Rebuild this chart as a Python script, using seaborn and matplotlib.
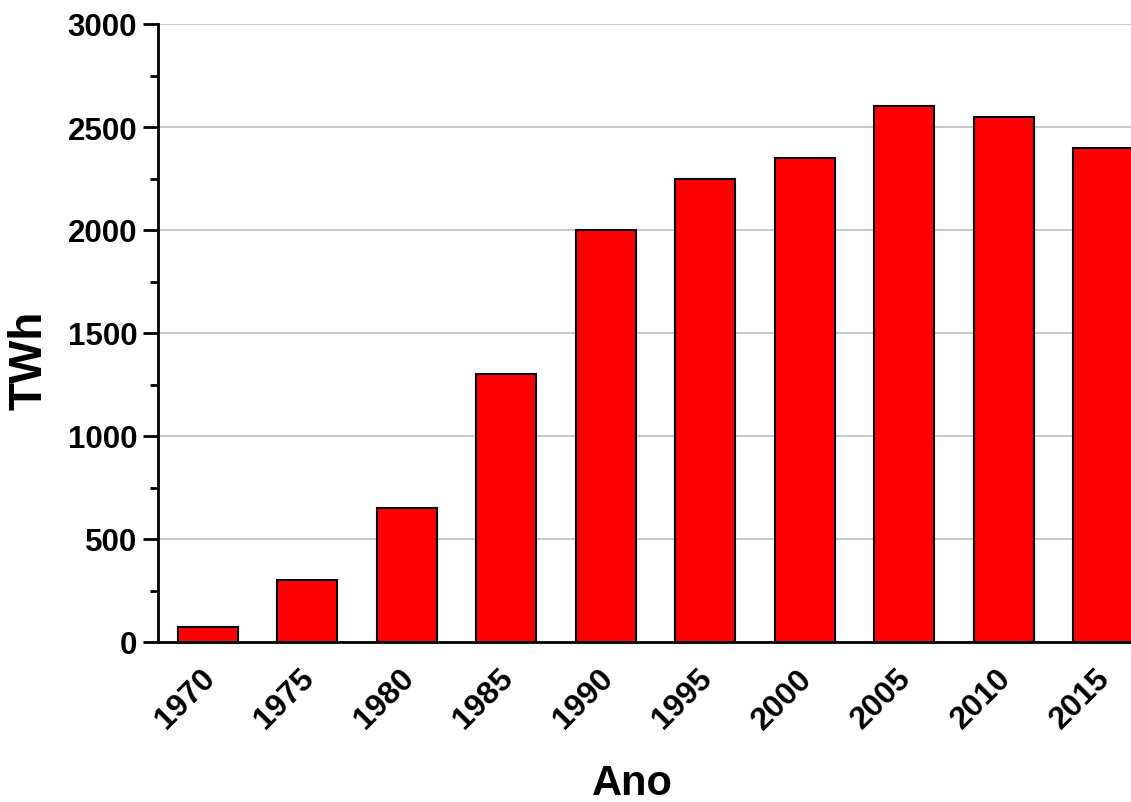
import matplotlib
matplotlib.use("Agg")
import matplotlib.pyplot as plt
from matplotlib.ticker import MultipleLocator
from matplotlib.transforms import ScaledTranslation
import seaborn as sns
import pandas as pd

anos = ['1970', '1975', '1980', '1985', '1990', '1995', '2000', '2005', '2010', '2015']
twh  = [75, 300, 650, 1300, 2000, 2250, 2350, 2600, 2550, 2400]

sns.set_style("white")
plt.rcParams['font.family'] = ['Liberation Sans', 'DejaVu Sans']
plt.rcParams['font.weight'] = 'bold'
for k in ['text.color', 'axes.labelcolor', 'xtick.color', 'ytick.color']:
    plt.rcParams[k] = 'black'

df = pd.DataFrame({'Ano': anos, 'TWh': twh})

fig = plt.figure(figsize=(11.31, 8.03), dpi=100)
# axes runs past the right edge, like the original export
ax = fig.add_axes([158/1131, 1-643/803, 995/1131, 618/803])

sns.barplot(ax=ax, data=df, x='Ano', y='TWh', color='#ff0000', saturation=1,
            width=0.6, edgecolor='black', linewidth=1.5, zorder=3)

ax.set_xlim(-0.5, len(anos) - 0.5)
ax.set_ylim(0, 3000)
ax.yaxis.set_major_locator(MultipleLocator(500))
ax.yaxis.set_minor_locator(MultipleLocator(250))
ax.grid(axis='y', which='major', color='#bdbdbd', lw=1.2, zorder=0)
ax.set_axisbelow(True)

for s in ['top', 'right']:
    ax.spines[s].set_visible(False)
for s in ['left', 'bottom']:
    ax.spines[s].set_linewidth(2)
    ax.spines[s].set_color('black')

ax.tick_params(axis='y', which='major', direction='out', length=11, width=2,
               labelsize=22.5, left=True, pad=4)
ax.tick_params(axis='y', which='minor', direction='out', length=6, width=2, left=True)
ax.tick_params(axis='x', which='both', length=0, labelsize=23, pad=15)
shift = ScaledTranslation(-8/100, 0, fig.dpi_scale_trans)
for lbl in ax.get_xticklabels():
    lbl.set_rotation(45)
    lbl.set_ha('right')
    lbl.set_rotation_mode('anchor')
    lbl.set_fontweight('bold')
    lbl.set_transform(lbl.get_transform() + shift)
for lbl in ax.get_yticklabels():
    lbl.set_fontweight('bold')

ax.set_ylabel('TWh', fontsize=33, fontweight='bold')
ax.set_xlabel('Ano', fontsize=30, fontweight='bold')
ax.yaxis.set_label_coords((30-158)/995, (643-360)/618)
ax.xaxis.set_label_coords((632-158)/995, (643-784)/618)
ax.yaxis.label.set_va('center')
ax.xaxis.label.set_va('center')

fig.savefig('out.png', dpi=100, facecolor='white')
